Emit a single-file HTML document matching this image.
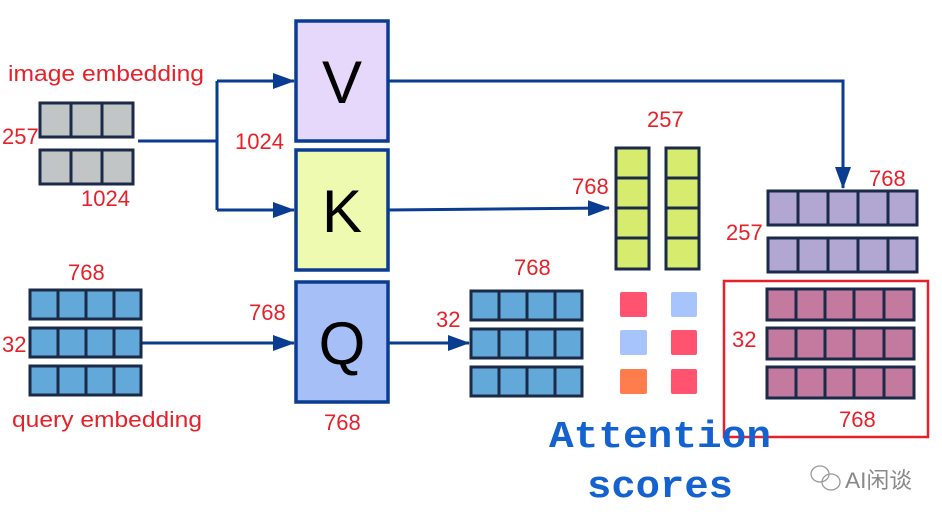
<!DOCTYPE html>
<html><head><style>body{margin:0;background:#fff}svg{display:block}</style></head><body>
<svg width="942" height="518" viewBox="0 0 942 518" xmlns="http://www.w3.org/2000/svg">
<defs><marker id="b" markerWidth="22" markerHeight="16" refX="21" refY="8" orient="auto" markerUnits="userSpaceOnUse"><path d="M0,0 L22,8 L0,16Z" fill="#0a3d91"/></marker></defs>
<g stroke="#0a3d91" stroke-width="3" fill="none">
<path d="M138,141 H217 M217,81 V210"/>
<path d="M217,81 H294" marker-end="url(#b)"/>
<path d="M217,210 H294" marker-end="url(#b)"/>
<path d="M388,81 H843 V188" marker-end="url(#b)"/>
<path d="M388,210 L609,208" marker-end="url(#b)"/>
<path d="M141,343 H294" marker-end="url(#b)"/>
<path d="M388,343 H469" marker-end="url(#b)"/>
</g>
<g stroke="#0a3d91" stroke-width="3.5">
<rect x="296" y="21" width="92" height="120" fill="#e6d8fb"/>
<rect x="296" y="150" width="92" height="120" fill="#eefab0"/>
<rect x="296" y="282" width="92" height="120" fill="#a6c0f7"/>
</g>
<g font-family="Liberation Sans, sans-serif" font-size="60" text-anchor="middle" fill="#000">
<text x="342" y="103">V</text><text x="342" y="232">K</text><text x="342" y="364">Q</text>
</g>
<g stroke="#1a2a48" stroke-width="3">
<g fill="#c2c5c6">
<rect x="40" y="103" width="31" height="34"/><rect x="71" y="103" width="31" height="34"/><rect x="102" y="103" width="31" height="34"/>
<rect x="40" y="150" width="31" height="34"/><rect x="71" y="150" width="31" height="34"/><rect x="102" y="150" width="31" height="34"/>
</g>
<g fill="#62a8d9">
<rect x="30" y="290" width="28" height="29"/><rect x="58" y="290" width="28" height="29"/><rect x="86" y="290" width="28" height="29"/><rect x="114" y="290" width="27" height="29"/>
<rect x="30" y="328" width="28" height="29"/><rect x="58" y="328" width="28" height="29"/><rect x="86" y="328" width="28" height="29"/><rect x="114" y="328" width="27" height="29"/>
<rect x="30" y="366" width="28" height="29"/><rect x="58" y="366" width="28" height="29"/><rect x="86" y="366" width="28" height="29"/><rect x="114" y="366" width="27" height="29"/>
<rect x="471" y="291" width="28" height="29"/><rect x="499" y="291" width="28" height="29"/><rect x="527" y="291" width="28" height="29"/><rect x="555" y="291" width="27" height="29"/>
<rect x="471" y="329" width="28" height="29"/><rect x="499" y="329" width="28" height="29"/><rect x="527" y="329" width="28" height="29"/><rect x="555" y="329" width="27" height="29"/>
<rect x="471" y="367" width="28" height="29"/><rect x="499" y="367" width="28" height="29"/><rect x="527" y="367" width="28" height="29"/><rect x="555" y="367" width="27" height="29"/>
</g>
<g fill="#d7ec6e">
<rect x="616" y="148" width="33" height="30"/><rect x="616" y="178" width="33" height="30"/><rect x="616" y="208" width="33" height="30"/><rect x="616" y="238" width="33" height="31"/>
<rect x="666" y="148" width="33" height="30"/><rect x="666" y="178" width="33" height="30"/><rect x="666" y="208" width="33" height="30"/><rect x="666" y="238" width="33" height="31"/>
</g>
<g fill="#b2a6d3">
<rect x="768" y="191" width="30" height="34"/><rect x="798" y="191" width="30" height="34"/><rect x="828" y="191" width="30" height="34"/><rect x="858" y="191" width="30" height="34"/><rect x="888" y="191" width="29" height="34"/>
<rect x="768" y="238" width="30" height="34"/><rect x="798" y="238" width="30" height="34"/><rect x="828" y="238" width="30" height="34"/><rect x="858" y="238" width="30" height="34"/><rect x="888" y="238" width="29" height="34"/>
</g>
<g fill="#c4799e">
<rect x="767" y="289" width="29" height="31"/><rect x="796" y="289" width="29" height="31"/><rect x="825" y="289" width="29" height="31"/><rect x="854" y="289" width="30" height="31"/><rect x="884" y="289" width="30" height="31"/>
<rect x="767" y="328" width="29" height="31"/><rect x="796" y="328" width="29" height="31"/><rect x="825" y="328" width="29" height="31"/><rect x="854" y="328" width="30" height="31"/><rect x="884" y="328" width="30" height="31"/>
<rect x="767" y="367" width="29" height="31"/><rect x="796" y="367" width="29" height="31"/><rect x="825" y="367" width="29" height="31"/><rect x="854" y="367" width="30" height="31"/><rect x="884" y="367" width="30" height="31"/>
</g>
</g>
<rect x="620" y="292" width="27" height="25" rx="2" fill="#ff5370"/>
<rect x="620" y="330" width="27" height="25" rx="2" fill="#a8c4fd"/>
<rect x="620" y="369" width="27" height="25" rx="2" fill="#ff7d4d"/>
<rect x="671" y="292" width="26" height="25" rx="2" fill="#a8c4fd"/>
<rect x="671" y="330" width="26" height="25" rx="2" fill="#ff5370"/>
<rect x="671" y="369" width="26" height="25" rx="2" fill="#ff5370"/>
<rect x="724" y="281" width="204" height="156" fill="none" stroke="#e8202a" stroke-width="2.5"/>
<g font-family="Liberation Sans, sans-serif" font-size="22" fill="#e8202a">
<text x="8" y="81" textLength="196" lengthAdjust="spacingAndGlyphs">image embedding</text>
<text x="2" y="144">257</text>
<text x="81" y="206">1024</text>
<text x="235" y="149">1024</text>
<text x="68" y="280">768</text>
<text x="2" y="352">32</text>
<text x="12" y="427" textLength="190" lengthAdjust="spacingAndGlyphs">query embedding</text>
<text x="249" y="320">768</text>
<text x="324" y="430">768</text>
<text x="436" y="327">32</text>
<text x="514" y="275">768</text>
<text x="647" y="127">257</text>
<text x="572" y="194">768</text>
<text x="869" y="186">768</text>
<text x="726" y="240">257</text>
<text x="732" y="347">32</text>
<text x="839" y="427">768</text>
</g>
<g font-family="Liberation Mono, monospace" font-weight="bold" font-size="38" fill="#1462d0">
<text x="549" y="447" textLength="222" lengthAdjust="spacingAndGlyphs">Attention</text>
<text x="587" y="497" textLength="146" lengthAdjust="spacingAndGlyphs">scores</text>
</g>
<g fill="none" stroke="#999" stroke-width="1.3"><ellipse cx="820" cy="474" rx="9" ry="8"/><ellipse cx="831" cy="482" rx="9" ry="8"/></g>
<text x="845" y="488" font-family="Liberation Sans, Noto Sans CJK SC, sans-serif" font-size="22" fill="#888" textLength="67" lengthAdjust="spacingAndGlyphs">AI闲谈</text>
</svg>
</body></html>
